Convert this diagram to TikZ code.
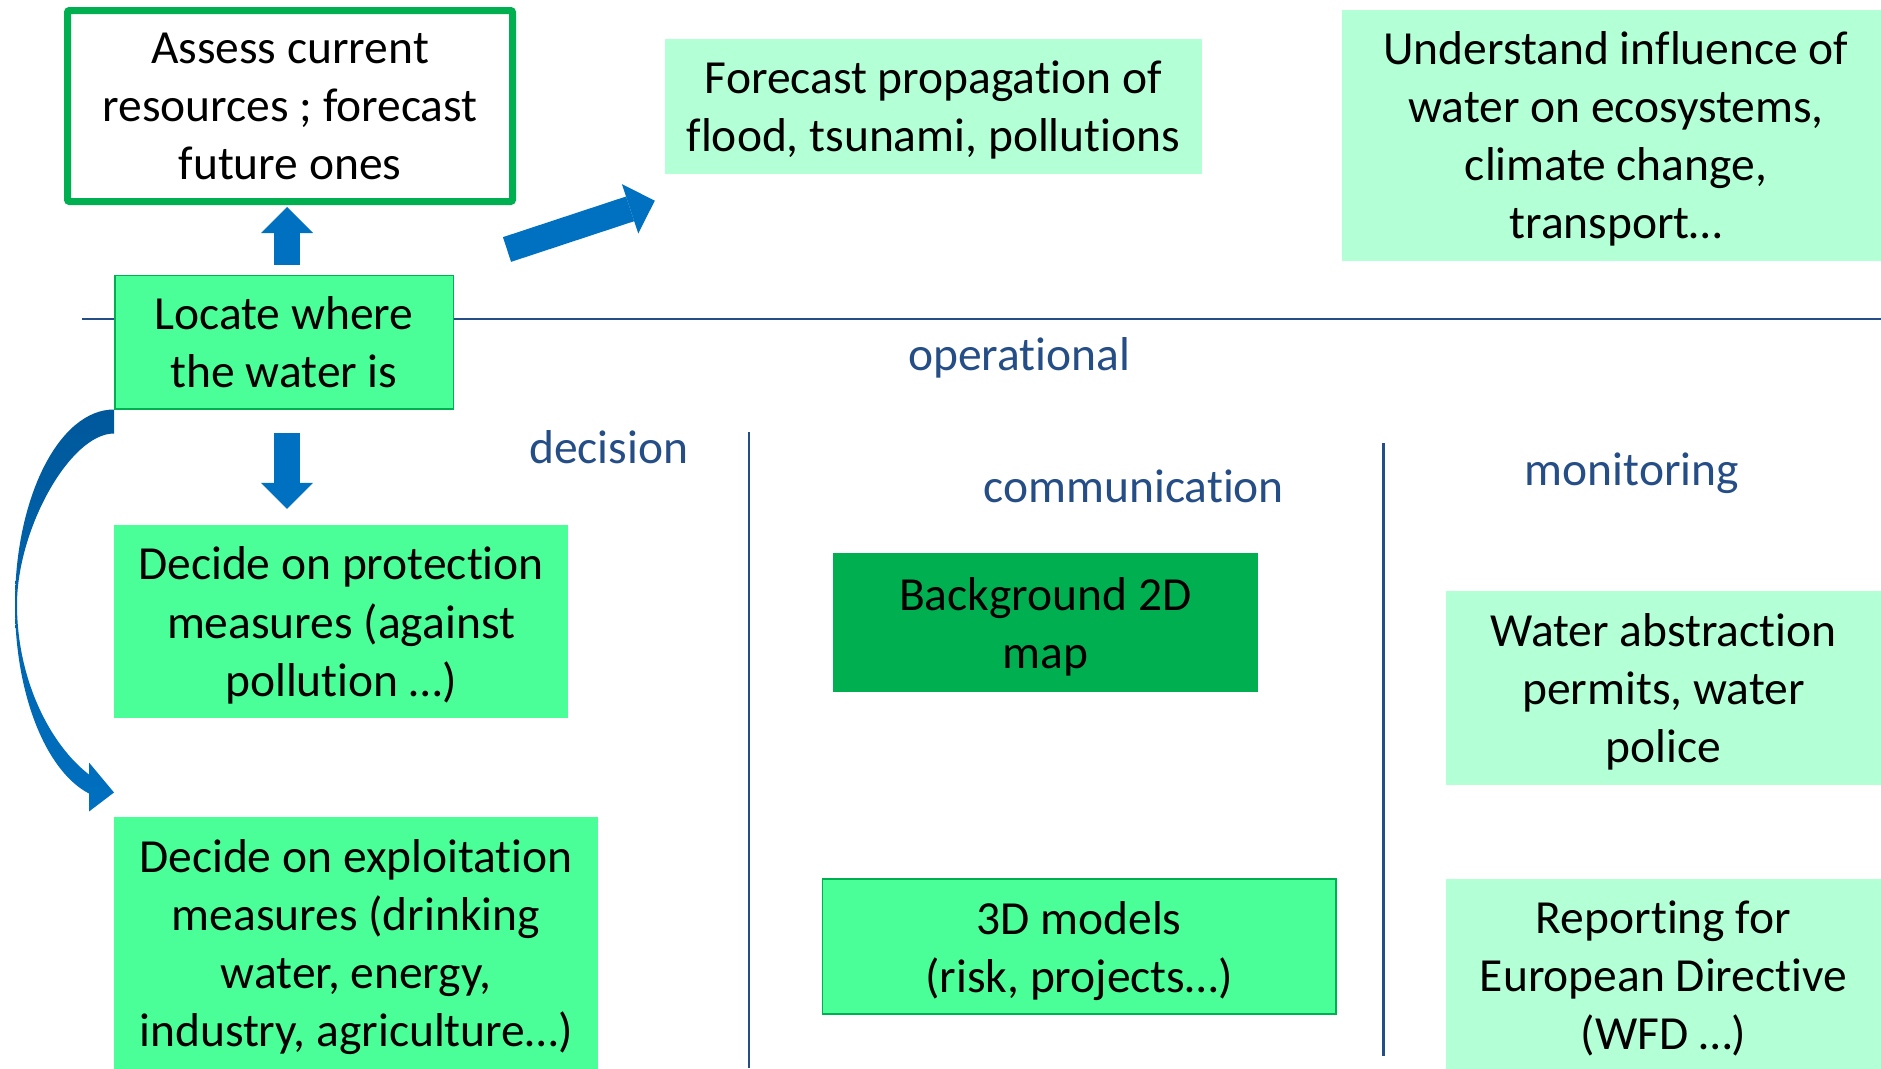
\documentclass[tikz,border=0pt]{standalone}
\usepackage{fontspec}
\setmainfont{Carlito}[Ligatures={NoCommon,NoContextual}]
\usetikzlibrary{arrows.meta,calc}
\definecolor{brightg}{HTML}{4BFF98}
\definecolor{lightg}{HTML}{B3FFD6}
\definecolor{darkg}{HTML}{00B050}
\definecolor{arrowblue}{HTML}{0070C0}
\definecolor{arrowdark}{HTML}{00589B}
\definecolor{labelblue}{HTML}{254D86}
\begin{document}
\begin{tikzpicture}[x=1pt,y=-1pt,
  txt/.style={align=center, inner sep=0pt, font=\fontsize{47.5}{58}\selectfont, text=black, text depth=0pt},
  boxbright/.style={txt, fill=brightg},
  boxlight/.style={txt, fill=lightg},
  lbl/.style={anchor=base west, inner sep=0pt, font=\fontsize{47.5}{58}\selectfont, text=labelblue},
  sepline/.style={draw=labelblue, line width=2.2pt},
  blockarrow/.style={draw=arrowblue, line width=26pt, -{Triangle[length=26pt,width=52pt,line width=0pt]}}
]
\useasboundingbox (0,0) rectangle (1881,1068);
\fill[white] (0,0) rectangle (1881,1068);

% separators
\draw[sepline] (82,319) -- (1881,319);
\draw[sepline] (749,432) -- (749,1068);
\draw[sepline] (1383.5,443) -- (1383.5,1056);

% boxes
\node[txt, draw=darkg, line width=7pt, fill=white, rounded corners=2pt,
      minimum width=445pt, minimum height=191pt] (assess) at (290,106)
      {Assess current\\resources ; forecast\\future ones};
\node[boxbright, draw=darkg, line width=1.5pt, minimum width=338.5pt, minimum height=133.5pt]
      (locate) at (284,342) {Locate where\\the water is};
\node[boxlight, minimum width=537pt, minimum height=135pt] (forecast) at (933.5,106.5)
      {Forecast propagation of\\flood, tsunami, pollutions};
\node[boxlight, minimum width=548pt, minimum height=251pt] (understand) at (1616,135.5)
      {Understand influence of\\water on ecosystems,\\climate change,\\transport…};
\node[boxbright, minimum width=454pt, minimum height=193pt] (protect) at (341,621.5)
      {Decide on protection\\measures (against\\pollution …)};
\node[boxbright, minimum width=484pt, minimum height=252pt] (exploit) at (356,943)
      {Decide on exploitation\\measures (drinking\\water, energy,\\industry, agriculture…)};
\node[txt, fill=darkg, minimum width=425pt, minimum height=138.5pt] (map2d) at (1045.3,622.7)
      {Background 2D\\map};
\node[boxbright, draw=darkg, line width=1.5pt, minimum width=513.5pt, minimum height=135pt]
      (models) at (1079,946.6) {3D models\\(risk, projects…)};
\node[boxlight, minimum width=435pt, minimum height=194pt] (abstraction) at (1663.5,688)
      {Water abstraction\\permits, water\\police};
\node[boxlight, minimum width=435pt, minimum height=193pt] (reporting) at (1663.5,975)
      {Reporting for\\European Directive\\(WFD …)};

% labels
\node[lbl] (operational) at (908,370.5) {operational};
\node[lbl] (decision) at (529,463.5) {decision};
\node[lbl] (communication) at (983.5,502) {communication};
\node[lbl] (monitoring) at (1524.6,485) {monitoring};

% block arrows
\draw[blockarrow] ($(locate.north)+(3,-10)$) -- ($(locate.north |- assess.south)+(3,2)$);
\draw[blockarrow] ($(locate.south)+(3,23)$) -- ($(locate.south |- protect.north)+(3,-16)$);
\draw[blockarrow] ($(locate.north east)+(53,-25)$) -- ($(forecast.south west)+(-10,26.5)$);

% curved arrow from locate to exploit
\begin{scope}[shift={(locate.south west)}]
\shade[top color=arrowdark, bottom color=arrowblue]
  (0,0) .. controls (-54.6,0) and (-99,87.4) .. (-99,195)
  .. controls (-99,283.8) and (-68.6,361.3) .. (-25,384)
  -- (-25,402) -- (0,383) -- (-25,353) -- (-25,365)
  .. controls (-64,335) and (-97,270) .. (-97,195)
  .. controls (-97,120) and (-44,24) .. (0,24) -- cycle;
\end{scope}
\end{tikzpicture}
\end{document}
